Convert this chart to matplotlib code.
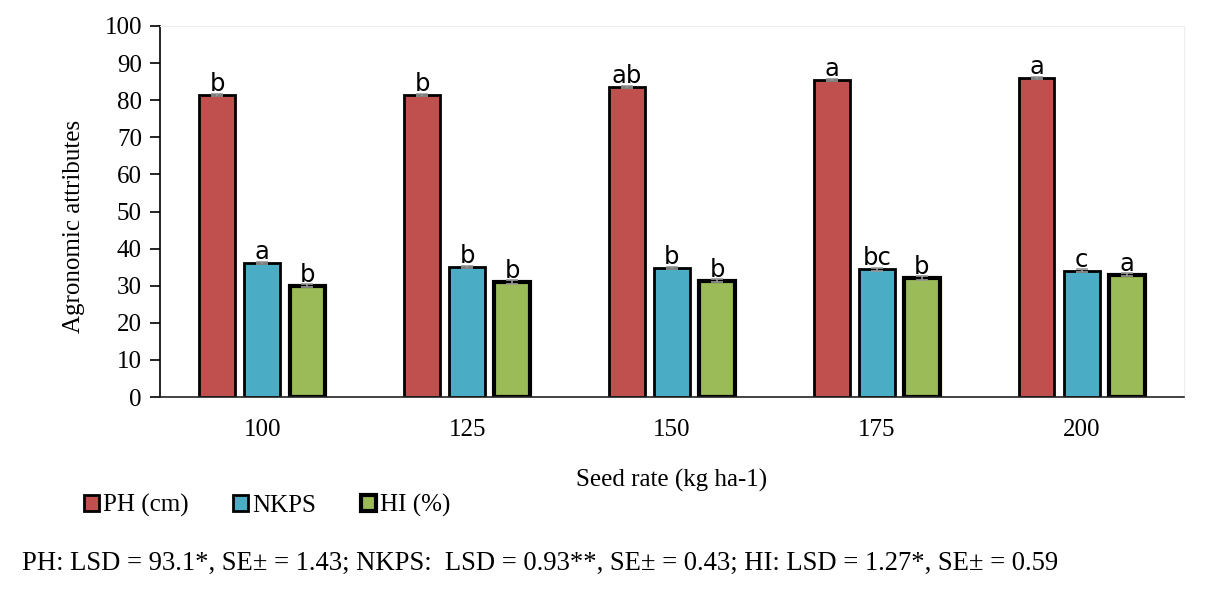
import numpy as np
import matplotlib.pyplot as plt
from matplotlib.patches import Patch

# Données
seed_rates = ['100', '125', '150', '175', '200']
ph = [81.5, 81.3, 83.6, 85.5, 85.9]
nkps = [36.2, 35.0, 34.8, 34.4, 34.0]
hi = [30.0, 31.0, 31.3, 32.0, 33.0]
ph_err = [0.3, 0.3, 0.3, 0.3, 0.3]
nkps_err = [0.3, 0.3, 0.3, 0.4, 0.4]
hi_err = [0.4, 0.5, 0.4, 0.5, 0.5]
ph_lettres = ['b', 'b', 'ab', 'a', 'a']
nkps_lettres = ['a', 'b', 'b', 'bc', 'c']
hi_lettres = ['b', 'b', 'b', 'b', 'a']

serif = 'Liberation Serif'
sans = 'DejaVu Sans'
fs = 18

fig = plt.figure(figsize=(12.06, 6.02), dpi=100)
ax = fig.add_axes([160 / 1206, 1 - 397 / 602, 1024 / 1206, 371 / 602])

x = np.arange(len(seed_rates))
w = 0.175
off = 0.22
series = [
    (ph, ph_err, ph_lettres, '#C0504D', -off, 2.0),
    (nkps, nkps_err, nkps_lettres, '#4BACC6', 0, 2.0),
    (hi, hi_err, hi_lettres, '#9BBB59', off, 3.0),
]
for vals, errs, lettres, col, dx, lw in series:
    ax.bar(x + dx, vals, w, color=col, edgecolor='black', linewidth=lw, zorder=2)
    ax.errorbar(x + dx, vals, yerr=errs, fmt='none', ecolor='#999999',
                elinewidth=1.2, capsize=4, capthick=1.2, zorder=3)
    for xi, v, l in zip(x + dx, vals, lettres):
        ax.text(xi, v - 0.3, l, ha='center', va='bottom', fontsize=17.5,
                family=sans, zorder=4)

ax.set_xlim(-0.5, 4.5)
ax.set_ylim(0, 100)
ax.set_yticks(range(0, 101, 10))
ax.set_xticks(x)
ax.set_xticklabels(seed_rates)
for lab in ax.get_xticklabels() + ax.get_yticklabels():
    lab.set_family(serif)
    lab.set_fontsize(fs)
ax.tick_params(axis='x', length=0, pad=16)
ax.tick_params(axis='y', direction='out', length=7, width=1.2, pad=6)
for s in ['top', 'right']:
    ax.spines[s].set_color('#EEEEEE')
ax.spines['left'].set_color('black')
ax.spines['left'].set_linewidth(1.2)
ax.spines['bottom'].set_color('#222222')
ax.spines['bottom'].set_linewidth(1.2)
ax.set_ylabel('Agronomic attributes', family=serif, fontsize=fs)
ax.yaxis.set_label_coords(-0.073, 0.46)
ax.set_xlabel('Seed rate (kg ha-1)', family=serif, fontsize=fs, labelpad=20)

handles = [Patch(facecolor=c, edgecolor='black', linewidth=lw)
           for _, _, _, c, _, lw in series]
fig.legend(handles, ['PH (cm)', 'NKPS', 'HI (%)'], loc='center left',
           bbox_to_anchor=(0.051, 0.16), ncol=3, frameon=False,
           prop={'family': serif, 'size': fs}, handlelength=0.6,
           handleheight=0.6, handletextpad=0.15, columnspacing=1.8)

fig.text(0.018, 0.064, 'PH: LSD = 93.1*, SE± = 1.43; NKPS:  LSD = 0.93**, SE± = 0.43; '
         'HI: LSD = 1.27*, SE± = 0.59', family=serif, fontsize=19.2, va='center')

fig.savefig('out.png', dpi=100)
